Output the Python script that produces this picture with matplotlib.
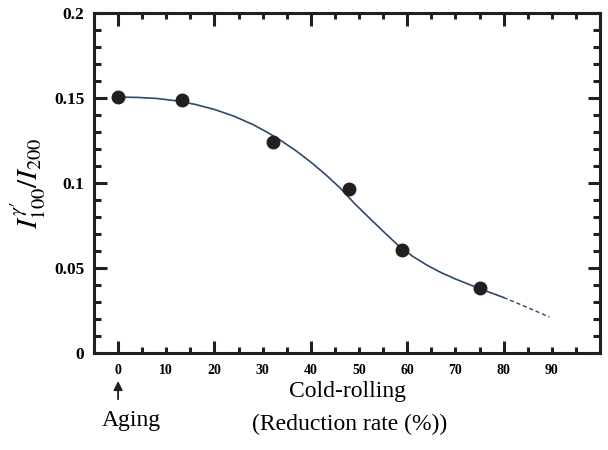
import numpy as np
import matplotlib.pyplot as plt
from matplotlib.ticker import MultipleLocator

plt.rcParams['font.family'] = ['Liberation Serif', 'DejaVu Serif']
plt.rcParams['mathtext.fontset'] = 'stix'

# measured points (reduction rate %, intensity ratio)
rate = [0, 13.2, 32.1, 48, 59, 75]
ratio = [0.1506, 0.149, 0.1238, 0.0963, 0.0604, 0.0379]

# fitted curve: solid part and dashed extrapolation
curve_x = [0, 4, 8, 12, 16, 20, 24, 28, 31, 34, 37, 40, 43, 46, 49, 52, 55, 58, 61, 64, 67, 70, 73, 76, 80]
curve_y = [0.1505, 0.1503, 0.1497, 0.1483, 0.1462, 0.1432, 0.1393, 0.1343, 0.1297, 0.1245,
           0.1187, 0.1122, 0.1050, 0.0972, 0.0880, 0.0797, 0.0715, 0.0635, 0.0570, 0.0517,
           0.0472, 0.0434, 0.0400, 0.0367, 0.0325]
extra_x = [80, 85, 89.5]
extra_y = [0.0325, 0.0266, 0.0210]

xtick_labels = [0, 10, 20, 30, 40, 50, 60, 70, 80, 90]

fig = plt.figure(figsize=(6.08, 4.5), dpi=100)
ax = fig.add_axes([94 / 608, 1 - 352.7 / 450, 506 / 608, 339.7 / 450])

line_col = '#2b4a6b'
ax.plot(curve_x, curve_y, color=line_col, lw=1.2, zorder=2)
ax.plot(extra_x, extra_y, color=line_col, lw=1.0, ls=(0, (3, 2)), zorder=2)
ax.plot(rate, ratio, 'o', color='#231f20', ms=9, zorder=3)

ax.set_xlim(-5, 100)
ax.set_ylim(0, 0.2)

for s in ax.spines.values():
    s.set_linewidth(2.2)
    s.set_color('#231f20')

ax.xaxis.set_major_locator(MultipleLocator(20))
ax.xaxis.set_minor_locator(MultipleLocator(5))
ax.yaxis.set_major_locator(MultipleLocator(0.05))
ax.yaxis.set_minor_locator(MultipleLocator(0.01))
ax.tick_params(which='both', direction='in', top=True, right=True, color='#231f20')
ax.tick_params(axis='x', which='major', length=9, width=2.2, labelbottom=False)
ax.tick_params(axis='x', which='minor', length=4.5, width=2.2)
ax.tick_params(axis='y', which='major', length=9, width=2.2)
ax.tick_params(axis='y', which='minor', length=5, width=2.2)

ax.set_yticks([0, 0.05, 0.1, 0.15, 0.2])
ax.set_yticklabels(['0', '0.05', '0.1', '0.15', '0.2'], fontsize=12.5, fontweight='bold')
ax.tick_params(axis='y', pad=7)

# separate axis carrying the 10-step labels
sec = ax.secondary_xaxis('bottom')
sec.set_xticks(xtick_labels)
sec.set_xticklabels([str(v) for v in xtick_labels], fontsize=10, fontweight='bold')
sec.tick_params(length=0, pad=8)
sec.spines['bottom'].set_visible(False)

ax.set_ylabel(r"$I^{\gamma\prime}_{100}/I_{200}$", fontsize=21)
ax.yaxis.set_label_coords(-0.09, 0.5)

ax.annotate('', xy=(0, -0.075), xytext=(0, -0.145),
            xycoords=ax.get_xaxis_transform(), textcoords=ax.get_xaxis_transform(),
            arrowprops=dict(arrowstyle='-|>', color='#231f20', lw=1.3, mutation_scale=13))

fig.text(131 / 608, 1 - 426 / 450, 'Aging', ha='center', va='baseline', fontsize=17)
fig.text(347 / 608, 1 - 397 / 450, 'Cold-rolling', ha='center', va='baseline', fontsize=17)
fig.text(350 / 608, 1 - 430 / 450, '(Reduction rate (%))', ha='center', va='baseline', fontsize=17)

fig.savefig('out.png', dpi=100)
